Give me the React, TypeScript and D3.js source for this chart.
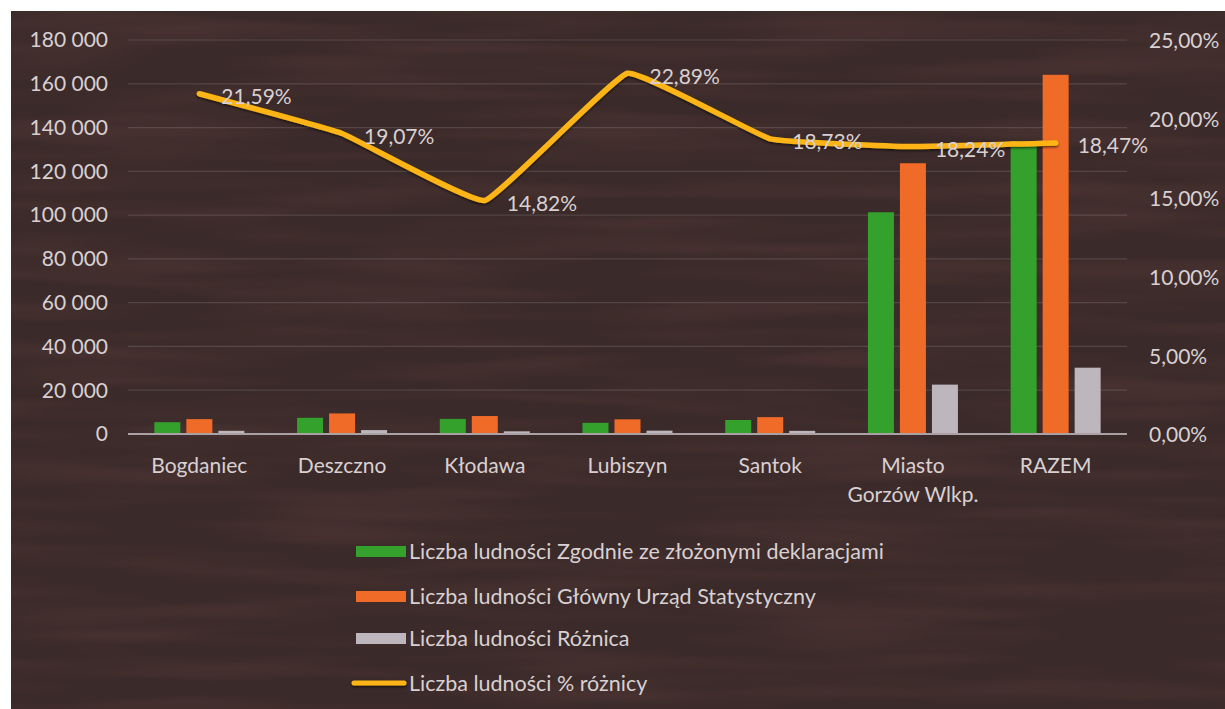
import * as d3 from 'd3';
import React, { ReactElement } from 'react';

const categories = ['Bogdaniec', 'Deszczno', 'Kłodawa', 'Lubiszyn', 'Santok', 'Miasto Gorzów Wlkp.', 'RAZEM'];
const categoryLines = [['Bogdaniec'], ['Deszczno'], ['Kłodawa'], ['Lubiszyn'], ['Santok'], ['Miasto', 'Gorzów Wlkp.'], ['RAZEM']];
const declared = [5400, 7400, 6900, 5100, 6400, 101300, 133800];
const gus = [6800, 9400, 8200, 6700, 7700, 123700, 164100];
const difference = [1450, 1790, 1220, 1530, 1440, 22560, 30300];
const percentDiff = [21.59, 19.07, 14.82, 22.89, 18.73, 18.24, 18.47];

const leftTicks = [0, 20000, 40000, 60000, 80000, 100000, 120000, 140000, 160000, 180000];
const rightTicks = [0, 5, 10, 15, 20, 25];

const seriesNames = [
  'Liczba ludności Zgodnie ze złożonymi deklaracjami',
  'Liczba ludności Główny Urząd Statystyczny',
  'Liczba ludności Różnica',
];
const lineName = 'Liczba ludności % różnicy';

const COLORS = ['#34a12c', '#f06a28', '#bdb6bd'];
const LINE_COLOR = '#fcb414';
const TEXT = '#d9d0d2';
const FONT = 'Lato, sans-serif';

const W = 1225;
const H = 709;
const LEFT = 128;
const RIGHT = 1127;
const TOP = 40;
const BOTTOM = 434;

const fmtThousands = (v: number) => d3.format(',')(v).replace(/,/g, ' ');
const fmtPct = (v: number, digits: number) => v.toFixed(digits).replace('.', ',') + '%';

const App = (): ReactElement => {
  const x = d3.scaleBand<string>().domain(categories).range([LEFT, RIGHT]).padding(0);
  const x1 = d3.scaleBand<number>().domain([0, 1, 2]).range([-45, 45]).paddingInner(0.1875).paddingOuter(0);
  const y = d3.scaleLinear().domain([0, 180000]).range([BOTTOM, TOP]);
  const y2 = d3.scaleLinear().domain([0, 25]).range([BOTTOM, TOP]);
  const series = [declared, gus, difference];

  const cx = (c: string) => (x(c) as number) + x.bandwidth() / 2;

  // excel-like light smoothing
  const line = d3
    .line<number>()
    .x((_, i) => cx(categories[i]))
    .y((d) => y2(d))
    .curve(d3.curveCardinal.tension(0.72));

  const legendY = [551, 596, 638, 683];

  return (
    <svg width={W} height={H} style={{ position: 'absolute', left: 0, top: 0 }} fontFamily={FONT}>
      <defs>
        <filter id="shadow" filterUnits="userSpaceOnUse" x={0} y={0} width={W} height={H}>
          <feDropShadow dx="0" dy="1.5" stdDeviation="1.2" floodColor="#000" floodOpacity="0.6" />
        </filter>
        <filter id="grain" x="0" y="0" width="100%" height="100%">
          <feTurbulence type="fractalNoise" baseFrequency="0.004 0.05" numOctaves="2" seed="3" result="n" />
          <feColorMatrix
            in="n"
            type="matrix"
            values="0 0 0 0 0.33  0 0 0 0 0.12  0 0 0 0 0.12  0.9 0 0 0 -0.35"
          />
        </filter>
      </defs>
      <rect x={0} y={0} width={W} height={H} fill="#ffffff" />
      <rect x={11} y={11} width={W - 11} height={H - 11} fill="#3a2a29" />
      <rect x={11} y={11} width={W - 11} height={H - 11} filter="url(#grain)" opacity={0.35} />

      {leftTicks.map((t) => (
        <g key={t}>
          {t > 0 && <line x1={LEFT} x2={RIGHT} y1={y(t)} y2={y(t)} stroke="#ffffff" strokeOpacity={0.13} strokeWidth={1.2} />}
          <text x={108} y={y(t)} dy="0.35em" textAnchor="end" fill={TEXT} fontSize={21}>
            {fmtThousands(t)}
          </text>
        </g>
      ))}
      {rightTicks.map((t) => (
        <text key={t} x={1149} y={y2(t)} dy="0.4em" textAnchor="start" fill={TEXT} fontSize={21}>
          {fmtPct(t, 2)}
        </text>
      ))}

      {series.map((vals, s) =>
        vals.map((v, i) => (
          <rect
            key={`${s}-${i}`}
            x={cx(categories[i]) + (x1(s) as number)}
            y={y(v)}
            width={x1.bandwidth()}
            height={BOTTOM - y(v)}
            fill={COLORS[s]}
          />
        )),
      )}

      <line x1={LEFT} x2={RIGHT} y1={BOTTOM} y2={BOTTOM} stroke="#a9a1a3" strokeWidth={2} />

      <path
        d={line(percentDiff) as string}
        fill="none"
        stroke={LINE_COLOR}
        strokeWidth={5.5}
        strokeLinecap="round"
        strokeLinejoin="round"
        filter="url(#shadow)"
      />

      {percentDiff.map((p, i) => (
        <text key={i} x={cx(categories[i]) + 22} y={y2(p) + 3} dy="0.35em" fill={TEXT} fontSize={21}>
          {fmtPct(p, 2)}
        </text>
      ))}

      {categoryLines.map((lines, i) => (
        <text key={i} textAnchor="middle" fill={TEXT} fontSize={21}>
          {lines.map((l, j) => (
            <tspan key={j} x={cx(categories[i])} y={466 + j * 29} dy="0.35em">
              {l}
            </tspan>
          ))}
        </text>
      ))}

      {seriesNames.map((name, s) => (
        <g key={name}>
          <rect x={356} y={legendY[s] - 5} width={50} height={11} fill={COLORS[s]} />
          <text x={409} y={legendY[s]} dy="0.35em" fill={TEXT} fontSize={21.5}>
            {name}
          </text>
        </g>
      ))}
      <line x1={354} x2={404} y1={legendY[3]} y2={legendY[3]} stroke={LINE_COLOR} strokeWidth={5} strokeLinecap="round" filter="url(#shadow)" />
      <text x={409} y={legendY[3]} dy="0.35em" fill={TEXT} fontSize={21.5}>
        {lineName}
      </text>
    </svg>
  );
};

export default App;
